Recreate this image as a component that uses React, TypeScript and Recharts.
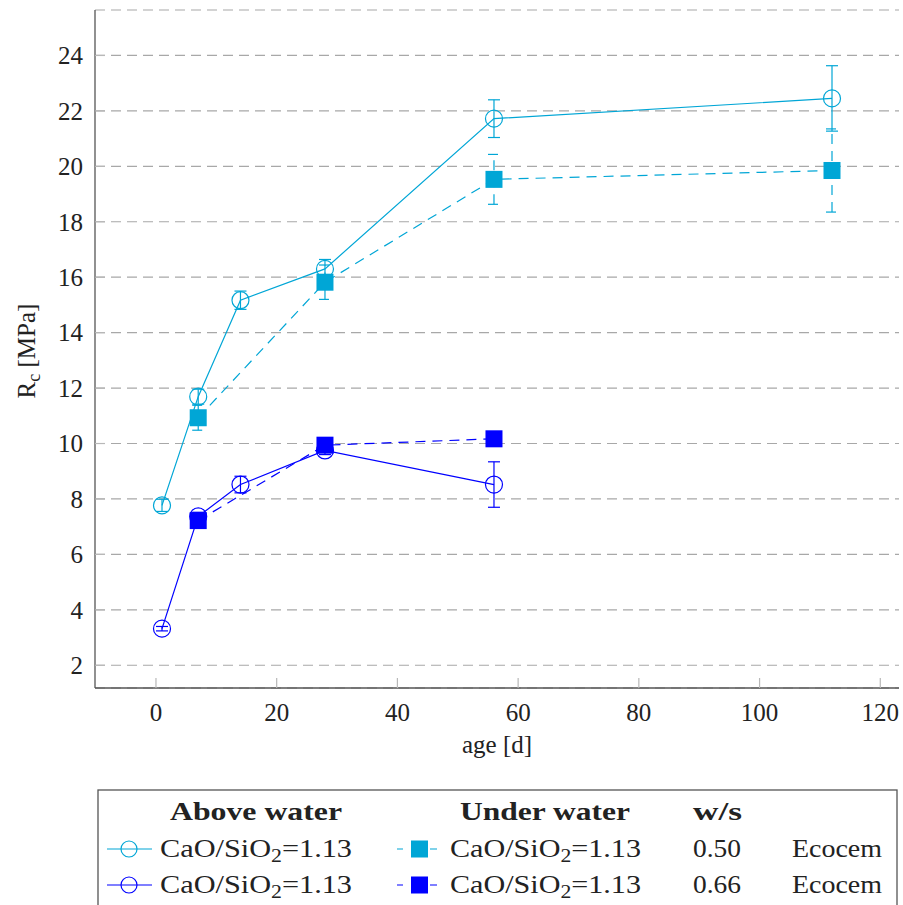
import React from "react";
import { LineChart, Line, XAxis, YAxis, CartesianGrid, ErrorBar } from "recharts";

// ages in days, Rc in MPa, err = half height of the error bar
const aboveAge050 = [1, 7, 14, 28, 56, 112];
const aboveRc050 = [7.77, 11.69, 15.17, 16.3, 21.72, 22.45];
const aboveErr050 = [0.22, 0.27, 0.33, 0.34, 0.68, 1.18];

const aboveAge066 = [1, 7, 14, 28, 56];
const aboveRc066 = [3.32, 7.37, 8.52, 9.75, 8.52];
const aboveErr066 = [0.08, 0.15, 0.3, 0.15, 0.82];

const underAge050 = [7, 28, 56, 112];
const underRc050 = [10.93, 15.82, 19.53, 19.85];
const underErr050 = [0.45, 0.62, 0.9, 1.5];

const underAge066 = [7, 28, 56];
const underRc066 = [7.22, 9.94, 10.17];
const underErr066 = [0.12, 0.12, 0.12];

const xTicks = [0, 20, 40, 60, 80, 100, 120];
const yTicks = [2, 4, 6, 8, 10, 12, 14, 16, 18, 20, 22, 24];
const xDomain = [-10.1, 123.1];
const yDomain = [1.18, 25.64];

const legendHeadings = ["Above water", "Under water", "w/s"];
const wsValues = ["0.50", "0.66"];
const binderNames = ["Ecocem", "Ecocem"];

const CYAN = "#00A6D6";
const BLUE = "#0000FF";
const TEXT = "#222";
const TICK_COLOR = "#b8b8b8";
const FRAME = "#555";
const TICK_LEN = 10;
const X_MARGIN = 15;
const Y_MARGIN = 12;
const DASH = "10 7";

// font-family is inherited from the wrapper div
const txt = { fontSize: 25, fill: TEXT };

const rows = (ages: number[], rc: number[], err: number[]) =>
  ages.map((age, i) => ({ age, rc: rc[i], err: err[i] }));

const series = [
  { key: "a050", data: rows(aboveAge050, aboveRc050, aboveErr050), color: CYAN, dashed: false, marker: "circle" },
  { key: "a066", data: rows(aboveAge066, aboveRc066, aboveErr066), color: BLUE, dashed: false, marker: "circle" },
  { key: "u050", data: rows(underAge050, underRc050, underErr050), color: CYAN, dashed: true, marker: "square" },
  { key: "u066", data: rows(underAge066, underRc066, underErr066), color: BLUE, dashed: true, marker: "square" },
];

const renderMarker = (marker: string, color: string) => (p: any) => {
  if (p.cx == null || p.cy == null) return <g key={p.index} />;
  if (marker === "circle") {
    return <circle key={p.index} cx={p.cx} cy={p.cy} r={8.5} fill="none" stroke={color} strokeWidth={1.2} />;
  }
  return <rect key={p.index} x={p.cx - 8.5} y={p.cy - 8.5} width={17} height={17} fill={color} />;
};

const BottomTick = (p: any) => {
  const axisY = p.y - X_MARGIN;
  return (
    <g>
      <line x1={p.x} x2={p.x} y1={axisY} y2={axisY - TICK_LEN} stroke={TICK_COLOR} strokeWidth={1.2} />
      <text x={p.x} y={p.y} dy="0.71em" textAnchor="middle" {...txt}>
        {p.payload.value}
      </text>
    </g>
  );
};

const LeftTick = (p: any) => {
  const axisX = p.x + Y_MARGIN;
  return (
    <g>
      <line x1={axisX} x2={axisX + TICK_LEN} y1={p.y} y2={p.y} stroke={TICK_COLOR} strokeWidth={1.2} />
      <text x={p.x} y={p.y} dy="0.35em" textAnchor="end" {...txt}>
        {p.payload.value}
      </text>
    </g>
  );
};

const TopTick = (p: any) => (
  <line x1={p.x} x2={p.x} y1={p.y} y2={p.y + TICK_LEN} stroke={TICK_COLOR} strokeWidth={1.2} />
);

const RightTick = (p: any) => (
  <line x1={p.x} x2={p.x - TICK_LEN} y1={p.y} y2={p.y} stroke={TICK_COLOR} strokeWidth={1.2} />
);

const XLabel = (p: any) => {
  const vb = p.viewBox;
  return (
    <text x={vb.x + vb.width / 2} y={vb.y + 65} textAnchor="middle" {...txt}>
      age [d]
    </text>
  );
};

const YLabel = (p: any) => {
  const vb = p.viewBox;
  const cx = vb.x + 26;
  const cy = vb.y + vb.height / 2 + 2;
  return (
    <text x={cx} y={cy} transform={`rotate(-90 ${cx} ${cy})`} textAnchor="middle" dy="0.35em" {...txt}>
      R
      <tspan dy={5} fontSize={18}>c</tspan>
      <tspan dy={-5}> [MPa]</tspan>
    </text>
  );
};

function Legend() {
  const rowY = [79, 115];
  const iconY = [71, 107];
  return (
    <svg width={903} height={127} style={{ position: "absolute", left: 0, top: 778 }}>
      <rect x={98} y={12} width={799} height={200} fill="white" stroke={FRAME} strokeWidth={1.3} />
      <text x={256} y={42} textAnchor="middle" {...txt} fontWeight="bold" textLength={172} lengthAdjust="spacingAndGlyphs">
        {legendHeadings[0]}
      </text>
      <text x={545} y={42} textAnchor="middle" {...txt} fontWeight="bold" textLength={170} lengthAdjust="spacingAndGlyphs">
        {legendHeadings[1]}
      </text>
      <text x={693} y={42} {...txt} fontWeight="bold" textLength={49} lengthAdjust="spacingAndGlyphs">
        {legendHeadings[2]}
      </text>
      {[0, 1].map((i) => {
        const above = series[i];
        const under = series[i + 2];
        return (
          <g key={i}>
            <line x1={107} x2={152} y1={iconY[i]} y2={iconY[i]} stroke={above.color} strokeWidth={1.2} />
            <circle cx={129} cy={iconY[i]} r={8} fill="none" stroke={above.color} strokeWidth={1.2} />
            <text x={160} y={rowY[i]} {...txt} textLength={192} lengthAdjust="spacingAndGlyphs">
              CaO/SiO<tspan dy={5} fontSize={18}>2</tspan>
              <tspan dy={-5}>=1.13</tspan>
            </text>
            <line
              x1={397}
              x2={437}
              y1={iconY[i]}
              y2={iconY[i]}
              stroke={under.color}
              strokeWidth={1.2}
              strokeDasharray="6 27 7 100"
            />
            <rect x={411} y={iconY[i] - 8.5} width={17} height={17} fill={under.color} />
            <text x={450} y={rowY[i]} {...txt} textLength={191} lengthAdjust="spacingAndGlyphs">
              CaO/SiO<tspan dy={5} fontSize={18}>2</tspan>
              <tspan dy={-5}>=1.13</tspan>
            </text>
            <text x={693} y={rowY[i]} {...txt} textLength={48} lengthAdjust="spacingAndGlyphs">
              {wsValues[i]}
            </text>
            <text x={792} y={rowY[i]} {...txt} textLength={90} lengthAdjust="spacingAndGlyphs">
              {binderNames[i]}
            </text>
          </g>
        );
      })}
    </svg>
  );
}

export default function App() {
  return (
    <div
      style={{
        position: "fixed",
        left: 0,
        top: 0,
        width: 903,
        height: 905,
        background: "white",
        overflow: "hidden",
        fontFamily: '"Liberation Serif", "Times New Roman", serif',
      }}
    >
      <LineChart width={903} height={778} margin={{ top: 10, right: 4, bottom: 20, left: 0 }}>
        <CartesianGrid vertical={false} stroke="#a8a8a8" strokeDasharray="10 6" strokeWidth={1.2} />
        <XAxis
          xAxisId={0}
          dataKey="age"
          type="number"
          domain={xDomain}
          ticks={xTicks}
          allowDataOverflow
          height={70}
          tickSize={0}
          tickMargin={X_MARGIN}
          tickLine={false}
          axisLine={{ stroke: FRAME, strokeWidth: 1.3 }}
          tick={BottomTick}
          label={{ content: XLabel }}
        />
        <XAxis
          xAxisId="top"
          orientation="top"
          type="number"
          domain={xDomain}
          ticks={xTicks}
          allowDataOverflow
          height={0}
          tickSize={0}
          tickMargin={0}
          tickLine={false}
          axisLine={{ stroke: FRAME, strokeWidth: 1.3 }}
          tick={TopTick}
        />
        <YAxis
          yAxisId={0}
          type="number"
          domain={yDomain}
          ticks={yTicks}
          allowDataOverflow
          width={95}
          tickSize={0}
          tickMargin={Y_MARGIN}
          tickLine={false}
          axisLine={{ stroke: FRAME, strokeWidth: 1.3 }}
          tick={LeftTick}
          label={{ content: YLabel }}
        />
        <YAxis
          yAxisId="right"
          orientation="right"
          type="number"
          domain={yDomain}
          ticks={yTicks}
          allowDataOverflow
          width={0}
          tickSize={0}
          tickMargin={0}
          tickLine={false}
          axisLine={{ stroke: FRAME, strokeWidth: 1.3 }}
          tick={RightTick}
        />
        {series.map((s) => (
          <Line
            key={s.key}
            data={s.data}
            dataKey="rc"
            xAxisId={0}
            yAxisId={0}
            type="linear"
            stroke={s.color}
            strokeWidth={1.2}
            strokeDasharray={s.dashed ? DASH : undefined}
            dot={renderMarker(s.marker, s.color)}
            activeDot={false}
            isAnimationActive={false}
          >
            <ErrorBar
              dataKey="err"
              direction="y"
              width={6}
              stroke={s.color}
              strokeWidth={1.2}
              strokeDasharray={s.dashed ? DASH : undefined}
              isAnimationActive={false}
            />
          </Line>
        ))}
      </LineChart>
      <Legend />
    </div>
  );
}
